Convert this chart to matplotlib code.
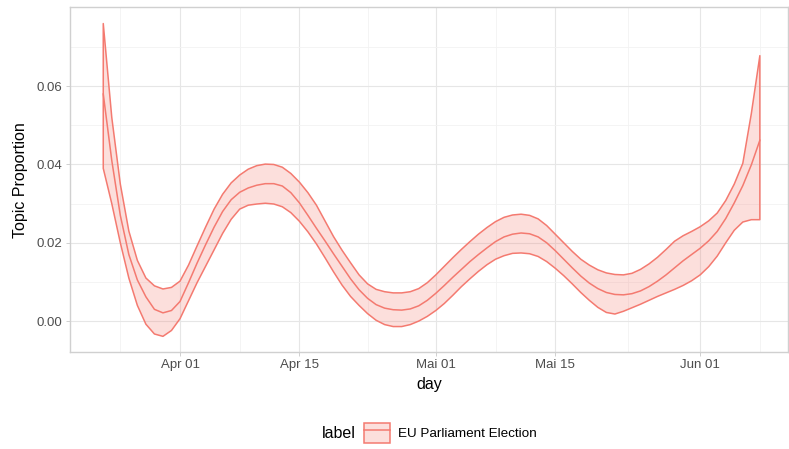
import matplotlib
matplotlib.use('Agg')
import matplotlib.pyplot as plt
import matplotlib.dates as mdates
from matplotlib.patches import Patch
from matplotlib.lines import Line2D
import numpy as np
import pandas as pd

plt.rc('font', family=['Liberation Sans', 'DejaVu Sans'])

# daily topic proportion for "EU Parliament Election", 23 Mar - 8 Jun
days = pd.date_range('2019-03-23', '2019-06-08', freq='D')

prop_mean = [0.0580, 0.0410, 0.0270, 0.0170, 0.0105, 0.0062, 0.0030, 0.0021, 0.0027, 0.0050,
             0.0098, 0.0148, 0.0195, 0.0240, 0.0280, 0.0310, 0.0329, 0.0340, 0.0347, 0.0351,
             0.0351, 0.0345, 0.0328, 0.0302, 0.0270, 0.0237, 0.0205, 0.0172, 0.0140, 0.0108,
             0.0080, 0.0058, 0.0042, 0.0033, 0.0029, 0.0028, 0.0031, 0.0039, 0.0053, 0.0071,
             0.0091, 0.0112, 0.0132, 0.0152, 0.0170, 0.0187, 0.0203, 0.0215, 0.0222, 0.0225,
             0.0223, 0.0215, 0.0200, 0.0180, 0.0158, 0.0136, 0.0115, 0.0097, 0.0083, 0.0073,
             0.0068, 0.0067, 0.0070, 0.0077, 0.0088, 0.0102, 0.0118, 0.0136, 0.0154, 0.0170,
             0.0186, 0.0205, 0.0229, 0.0262, 0.0302, 0.0346, 0.0399, 0.0462]

prop_upper = [0.0760, 0.0520, 0.0350, 0.0230, 0.0155, 0.0110, 0.0090, 0.0082, 0.0086, 0.0102,
              0.0143, 0.0192, 0.0240, 0.0286, 0.0324, 0.0353, 0.0373, 0.0388, 0.0397, 0.0401,
              0.0400, 0.0393, 0.0377, 0.0355, 0.0328, 0.0296, 0.0256, 0.0216, 0.0181, 0.0149,
              0.0118, 0.0095, 0.0081, 0.0075, 0.0072, 0.0072, 0.0075, 0.0083, 0.0098, 0.0118,
              0.0140, 0.0162, 0.0183, 0.0203, 0.0222, 0.0239, 0.0254, 0.0265, 0.0271, 0.0273,
              0.0270, 0.0261, 0.0244, 0.0222, 0.0200, 0.0178, 0.0158, 0.0143, 0.0131, 0.0123,
              0.0119, 0.0118, 0.0122, 0.0132, 0.0146, 0.0163, 0.0183, 0.0204, 0.0218, 0.0229,
              0.0241, 0.0256, 0.0276, 0.0308, 0.0350, 0.0403, 0.0530, 0.0678]

prop_lower = [0.0390, 0.0300, 0.0200, 0.0110, 0.0040, -0.0008, -0.0033, -0.0039, -0.0024, 0.0006,
              0.0052, 0.0098, 0.0140, 0.0182, 0.0224, 0.0260, 0.0286, 0.0296, 0.0299, 0.0301,
              0.0299, 0.0292, 0.0277, 0.0255, 0.0228, 0.0197, 0.0162, 0.0126, 0.0092, 0.0063,
              0.0040, 0.0019, 0.0002, -0.0009, -0.0014, -0.0014, -0.0009, 0.0000, 0.0012, 0.0027,
              0.0045, 0.0066, 0.0088, 0.0108, 0.0127, 0.0144, 0.0158, 0.0167, 0.0173, 0.0174,
              0.0172, 0.0165, 0.0152, 0.0135, 0.0116, 0.0095, 0.0073, 0.0053, 0.0035, 0.0022,
              0.0018, 0.0025, 0.0034, 0.0043, 0.0053, 0.0063, 0.0072, 0.0081, 0.0091, 0.0103,
              0.0118, 0.0139, 0.0166, 0.0200, 0.0232, 0.0253, 0.0259, 0.0259]

topic_label = 'EU Parliament Election'

x_major = ['2019-04-01', '2019-04-15', '2019-05-01', '2019-05-15', '2019-06-01']
x_major_labels = ['Apr 01', 'Apr 15', 'Mai 01', 'Mai 15', 'Jun 01']
x_minor = ['2019-03-25T00:00', '2019-04-08T00:00', '2019-04-23T00:00',
           '2019-05-08T00:00', '2019-05-23T12:00', '2019-06-08T00:00']
y_major = [0.00, 0.02, 0.04, 0.06]
y_minor = [0.01, 0.03, 0.05, 0.07]

line_col = '#F47A70'
grid_col = '#E6E6E6'
border_col = '#D0D0D0'
text_col = '#4D4D4D'

fig = plt.figure(figsize=(7.89, 4.49), dpi=100)
ax = fig.add_axes([70/789, 97/449, 718/789, 344.5/449])

xd = mdates.date2num(days.to_pydatetime())
ax.fill_between(xd, prop_lower, prop_upper, facecolor=line_col, alpha=0.24, lw=0)
ax.fill_between(xd, prop_lower, prop_upper, facecolor='none', edgecolor=line_col,
                lw=1.1, joinstyle='round')
ax.plot(xd, prop_mean, color=line_col, lw=1.1, solid_joinstyle='round')

apr1 = mdates.date2num(pd.Timestamp('2019-04-01'))
ax.set_xlim(apr1 - 12.9, apr1 + 71.3)
ax.set_ylim(-0.0079, 0.0801)

ax.set_xticks(mdates.date2num(pd.to_datetime(x_major)))
ax.set_xticklabels(x_major_labels)
ax.set_xticks(mdates.date2num(pd.to_datetime(x_minor, format='ISO8601')), minor=True)
ax.set_yticks(y_major)
ax.set_yticklabels(['%.2f' % v for v in y_major])
ax.set_yticks(y_minor, minor=True)

ax.grid(which='major', color=grid_col, lw=0.8)
ax.grid(which='minor', color='#F2F2F2', lw=0.6)
ax.set_axisbelow(True)
for s in ax.spines.values():
    s.set_color(border_col)
    s.set_linewidth(1.0)

ax.tick_params(axis='both', which='major', labelsize=9.5, labelcolor=text_col,
               color=border_col, length=2.75, width=0.7, pad=2.5)
ax.tick_params(axis='both', which='minor', length=0)

ax.set_xlabel('day', fontsize=11.5, color='black')
ax.xaxis.set_label_coords(0.5, -0.072)
ax.set_ylabel('Topic Proportion', fontsize=11.5, color='black')
ax.yaxis.set_label_coords(-0.058, 0.5)

# legend along the bottom: title on the left, one key
fig.text(322/789, 1 - 433/449, 'label', fontsize=11.5, ha='left', va='center')
key = (Patch(facecolor=(244/255, 122/255, 112/255, 0.24), edgecolor=line_col, lw=1.1),
       Line2D([0], [0], color=line_col, lw=1.1))
fig.legend([key], [topic_label], loc='center left', bbox_to_anchor=(364/789, 1 - 433/449),
           frameon=False, fontsize=9.7, borderpad=0, borderaxespad=0,
           handlelength=1.9, handleheight=1.85, handletextpad=0.65)

plt.savefig('out.png', dpi=100)
